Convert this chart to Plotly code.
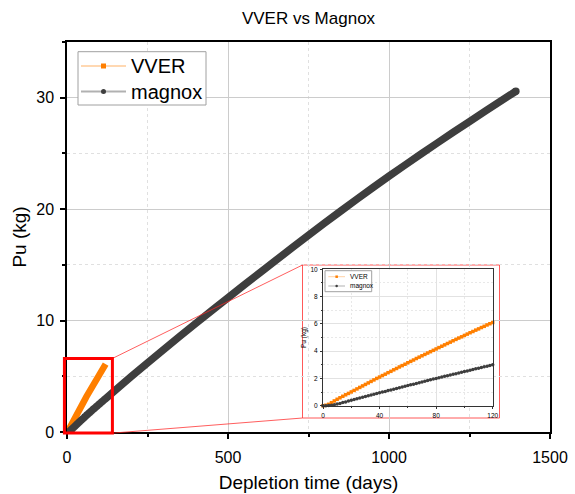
import plotly.graph_objects as go

# ---------------- data ----------------
inset_days = [0, 2, 4, 6, 8, 10, 12, 14, 16, 18, 20, 22, 24, 26, 28, 30, 32, 34, 36, 38,
              40, 42, 44, 46, 48, 50, 52, 54, 56, 58, 60, 62, 64, 66, 68, 70, 72, 74, 76, 78,
              80, 82, 84, 86, 88, 90, 92, 94, 96, 98, 100, 102, 104, 106, 108, 110, 112, 114,
              116, 118, 120]

vver_pu = [0.00, 0.03, 0.10, 0.22, 0.35, 0.47, 0.58, 0.69, 0.80, 0.90, 1.01, 1.12, 1.23, 1.34,
           1.45, 1.56, 1.67, 1.78, 1.89, 2.00, 2.10, 2.21, 2.31, 2.42, 2.52, 2.63, 2.73, 2.84,
           2.94, 3.04, 3.15, 3.25, 3.35, 3.46, 3.56, 3.66, 3.76, 3.86, 3.96, 4.06, 4.16, 4.26,
           4.36, 4.46, 4.56, 4.66, 4.76, 4.86, 4.96, 5.05, 5.15, 5.25, 5.35, 5.44, 5.54, 5.63,
           5.73, 5.82, 5.92, 6.01, 6.10]

magnox_pu_early = [0.00, 0.00, 0.01, 0.03, 0.07, 0.12, 0.17, 0.23, 0.28, 0.34, 0.40, 0.45, 0.51,
                   0.56, 0.62, 0.67, 0.73, 0.78, 0.84, 0.89, 0.95, 1.00, 1.05, 1.11, 1.16, 1.21,
                   1.26, 1.32, 1.37, 1.42, 1.48, 1.53, 1.58, 1.63, 1.69, 1.74, 1.79, 1.84, 1.90,
                   1.95, 2.00, 2.05, 2.10, 2.15, 2.20, 2.25, 2.30, 2.35, 2.40, 2.45, 2.50, 2.55,
                   2.60, 2.65, 2.70, 2.75, 2.80, 2.85, 2.90, 2.95, 3.00]

magnox_days_late = [200, 300, 400, 500, 600, 700, 800, 900, 1000, 1100, 1200, 1300, 1394]
magnox_pu_late = [5.00, 7.40, 9.75, 12.05, 14.32, 16.55, 18.75, 20.89, 22.96, 24.96, 26.91,
                  28.81, 30.58]

magnox_days = inset_days + magnox_days_late
magnox_pu = magnox_pu_early + magnox_pu_late

series_names = ["VVER", "magnox"]
x_ticks = [0, 500, 1000, 1500]
y_ticks = [0, 10, 20, 30]
inset_x_ticks = [0, 40, 80, 120]
inset_y_ticks = [0, 2, 4, 6, 8, 10]

# ---------------- style ----------------
FONT = "Arial, Liberation Sans, sans-serif"
ORANGE = "#FF7F00"
DARK = "#3E3E3E"
RED = "#FF0000"
X_RANGE = [0, 1500]
Y_RANGE = [0, 35]
ZOOM_BOX = (-8, 141, -0.1, 6.6)   # highlighted region in main axes (data units)
MINOR_DASH = "3px,3px"

fig = go.Figure()

# main thick curves
fig.add_trace(go.Scatter(x=inset_days, y=vver_pu, mode="lines", showlegend=False,
                         line=dict(color=ORANGE, width=6.5), xaxis="x", yaxis="y"))
fig.add_trace(go.Scatter(x=magnox_days, y=magnox_pu, mode="lines", showlegend=False,
                         line=dict(color=DARK, width=7.5, shape="spline", smoothing=0.6),
                         xaxis="x", yaxis="y"))
fig.add_trace(go.Scatter(x=magnox_days[-1:], y=magnox_pu[-1:], mode="markers", showlegend=False,
                         marker=dict(color=DARK, size=7.5, line=dict(width=0)),
                         xaxis="x", yaxis="y"))

# inset traces
fig.add_trace(go.Scatter(x=inset_days, y=vver_pu, mode="lines+markers", showlegend=False,
                         line=dict(color=ORANGE, width=1),
                         marker=dict(symbol="square", size=3.5, color=ORANGE, line=dict(width=0)),
                         xaxis="x2", yaxis="y2", cliponaxis=False))
fig.add_trace(go.Scatter(x=inset_days, y=magnox_pu_early, mode="lines+markers", showlegend=False,
                         line=dict(color=DARK, width=1),
                         marker=dict(symbol="circle", size=3.5, color=DARK, line=dict(width=0)),
                         xaxis="x2", yaxis="y2", cliponaxis=False))

# ---------------- layout geometry ----------------
W, H = 575, 494
ML, MR, MT, MB = 67, 25, 42, 62
PW, PH = W - ML - MR, H - MT - MB

def px_x(p):
    return (p - ML) / PW

def px_y(p):
    return (H - MB - p) / PH

inset_dom_x = [px_x(323), px_x(492.7)]
inset_dom_y = [px_y(405.7), px_y(269.3)]

main_axis_common = dict(showline=True, linecolor="black", linewidth=1.5, mirror=True,
                        ticks="outside", ticklen=5, tickwidth=1.5, tickcolor="black",
                        showgrid=True, gridcolor="#CCCCCC", gridwidth=1, zeroline=False,
                        automargin=False,
                        tickfont=dict(family=FONT, size=16, color="black"))

inset_axis_common = dict(showline=True, linecolor="#333", linewidth=1, mirror=True,
                         ticks="outside", ticklen=2, tickwidth=1, tickcolor="#333",
                         showgrid=True, gridcolor="#E2E2E2", gridwidth=1, zeroline=False,
                         automargin=False,
                         tickfont=dict(family=FONT, size=6.5, color="black"))

fig.update_layout(
    width=W, height=H,
    margin=dict(l=ML, r=MR, t=MT, b=MB, autoexpand=False),
    paper_bgcolor="white", plot_bgcolor="white",
    showlegend=False,
    title=dict(text="VVER vs Magnox", x=0.5, xref="paper", y=1 - 18 / H, yanchor="middle",
               font=dict(family=FONT, size=17, color="black")),
    xaxis=dict(range=X_RANGE, tickvals=x_ticks, domain=[0, 1], anchor="y",
               ticklabelstandoff=5,
               title=dict(text="Depletion time (days)", font=dict(family=FONT, size=19, color="black"),
                          standoff=11),
               minor=dict(dtick=250, tick0=0, showgrid=True, gridcolor="#E0E0E0", griddash=MINOR_DASH,
                          ticks="outside", ticklen=3, tickcolor="black"),
               **main_axis_common),
    yaxis=dict(range=Y_RANGE, tickvals=y_ticks, domain=[0, 1], anchor="x",
               ticklabelstandoff=3,
               title=dict(text="Pu (kg)", font=dict(family=FONT, size=19, color="black"),
                          standoff=5),
               minor=dict(dtick=5, tick0=0, showgrid=True, gridcolor="#E0E0E0", griddash=MINOR_DASH,
                          ticks="outside", ticklen=3, tickcolor="black"),
               **main_axis_common),
    xaxis3=dict(range=X_RANGE, tickvals=x_ticks, overlaying="x", side="top", anchor="y",
                showticklabels=False, showgrid=False, zeroline=False, showline=False,
                automargin=False,
                ticks="inside", ticklen=5, tickwidth=1.5, tickcolor="black",
                minor=dict(dtick=250, tick0=0, ticks="inside", ticklen=3, tickcolor="black")),
    yaxis3=dict(range=Y_RANGE, tickvals=y_ticks, overlaying="y", side="right", anchor="x",
                showticklabels=False, showgrid=False, zeroline=False, showline=False,
                automargin=False,
                ticks="inside", ticklen=5, tickwidth=1.5, tickcolor="black",
                minor=dict(dtick=5, tick0=0, ticks="inside", ticklen=3, tickcolor="black")),
    xaxis2=dict(range=[0, 120], tickvals=inset_x_ticks, domain=inset_dom_x, anchor="y2",
                ticklabelstandoff=1,
                minor=dict(dtick=20, tick0=0, showgrid=True, gridcolor="#E8E8E8", griddash="2px,2px",
                           ticks="outside", ticklen=1.5, tickcolor="#333"),
                **inset_axis_common),
    yaxis2=dict(range=[0, 10], tickvals=inset_y_ticks, domain=inset_dom_y, anchor="x2",
                ticklabelstandoff=1,
                title=dict(text="Pu (kg)", font=dict(family=FONT, size=6.5, color="black"), standoff=3),
                minor=dict(dtick=1, tick0=0, showgrid=True, gridcolor="#E8E8E8", griddash="2px,2px",
                           ticks="outside", ticklen=1.5, tickcolor="#333"),
                **inset_axis_common),
)

# ---------------- annotations: zoom box, inset frame, connectors ----------------
zx0, zx1, zy0, zy1 = ZOOM_BOX
dx0 = (zx0 - X_RANGE[0]) / (X_RANGE[1] - X_RANGE[0])
dx1 = (zx1 - X_RANGE[0]) / (X_RANGE[1] - X_RANGE[0])
dy0 = (zy0 - Y_RANGE[0]) / (Y_RANGE[1] - Y_RANGE[0])
dy1 = (zy1 - Y_RANGE[0]) / (Y_RANGE[1] - Y_RANGE[0])

iw = inset_dom_x[1] - inset_dom_x[0]
ih = inset_dom_y[1] - inset_dom_y[0]
frame = dict(x0=px_x(302.5), x1=px_x(499.5), y0=px_y(418), y1=px_y(265))

def to_inset_x(p):
    return (p - inset_dom_x[0]) / iw

def to_inset_y(p):
    return (p - inset_dom_y[0]) / ih

shapes = [
    # white backing + red frame for the inset (drawn in inset subplot group, below its grid)
    dict(type="rect", xref="x2 domain", yref="y2 domain", layer="below",
         x0=to_inset_x(frame["x0"]), x1=to_inset_x(frame["x1"]),
         y0=to_inset_y(frame["y0"]), y1=to_inset_y(frame["y1"]),
         fillcolor="white", line=dict(color="rgba(255,60,60,0.85)", width=1)),
    # connectors
    dict(type="line", xref="paper", yref="paper", layer="above",
         x0=dx1, y0=dy1, x1=frame["x0"], y1=frame["y1"],
         line=dict(color="rgba(255,40,40,0.75)", width=1)),
    dict(type="line", xref="paper", yref="paper", layer="above",
         x0=dx1, y0=dy0, x1=frame["x0"], y1=frame["y0"],
         line=dict(color="rgba(255,40,40,0.75)", width=1)),
    # zoom box on main axes
    dict(type="rect", xref="x domain", yref="y domain", layer="above",
         x0=dx0, x1=dx1, y0=dy0, y1=dy1,
         line=dict(color=RED, width=3), fillcolor="rgba(0,0,0,0)"),
]
annotations = []

# ---------------- hand-built legends (pixel layout) ----------------
def add_legend(box, rows, line_x, marker_size, text_x, font_size, line_cols, line_w):
    bx0, by0, bx1, by1 = box
    shapes.append(dict(type="rect", xref="paper", yref="paper", layer="above",
                       x0=px_x(bx0), x1=px_x(bx1), y0=px_y(by1), y1=px_y(by0),
                       fillcolor="white", line=dict(color="#A0A0A0", width=1)))
    symbols = ["square", "circle"]
    colors = [ORANGE, DARK]
    for i, (name, ry) in enumerate(zip(series_names, rows)):
        shapes.append(dict(type="line", xref="paper", yref="paper", layer="above",
                           x0=px_x(line_x[0]), x1=px_x(line_x[1]), y0=px_y(ry), y1=px_y(ry),
                           line=dict(color=line_cols[i], width=line_w)))
        cx = (line_x[0] + line_x[1]) / 2
        h = marker_size / 2
        shapes.append(dict(type="rect" if symbols[i] == "square" else "circle",
                           xref="paper", yref="paper", layer="above",
                           x0=px_x(cx - h), x1=px_x(cx + h), y0=px_y(ry + h), y1=px_y(ry - h),
                           fillcolor=colors[i], line=dict(width=0)))
        annotations.append(dict(text=name, xref="paper", yref="paper", showarrow=False,
                                x=px_x(text_x), y=px_y(ry), xanchor="left", yanchor="middle",
                                font=dict(family=FONT, size=font_size, color="black")))

add_legend(box=(78, 51.7, 206, 105), rows=(66, 91.5), line_x=(81, 126), marker_size=5,
           text_x=129, font_size=20,
           line_cols=["rgba(255,127,0,0.3)", "rgba(60,60,60,0.4)"], line_w=2)
add_legend(box=(325, 270.7, 371.7, 291.7), rows=(276.7, 286), line_x=(328.3, 345), marker_size=2.5,
           text_x=348, font_size=6.5,
           line_cols=["rgba(255,127,0,0.45)", "rgba(60,60,60,0.5)"], line_w=0.8)

fig.update_layout(shapes=shapes, annotations=annotations)

fig.write_html("out.html")
